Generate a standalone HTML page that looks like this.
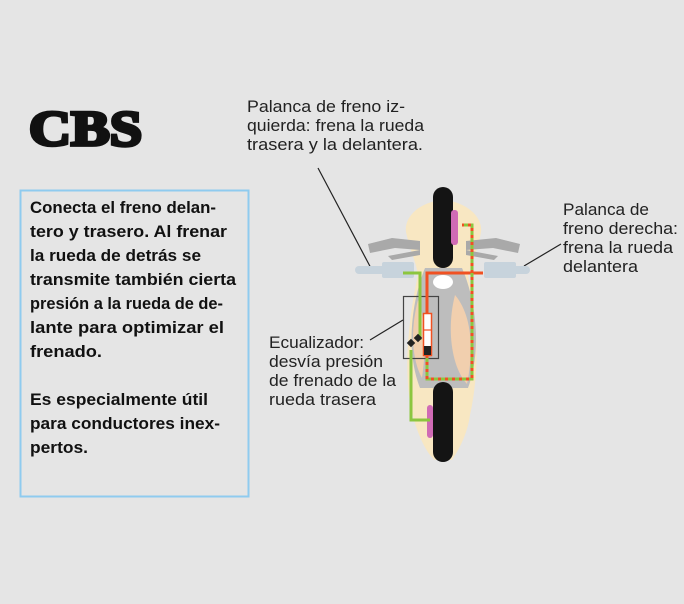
<!DOCTYPE html>
<html><head><meta charset="utf-8"><style>
body{margin:0;background:#e5e5e5;}
svg{display:block;}
</style></head><body>
<svg width="684" height="604" viewBox="0 0 684 604" xmlns="http://www.w3.org/2000/svg">
<rect width="684" height="604" fill="#e5e5e5"/>
<text x="29" y="145" font-family="Liberation Serif" font-weight="bold" font-size="50" textLength="113" lengthAdjust="spacingAndGlyphs" fill="#111" stroke="#111" stroke-width="3.5">CBS</text>
<rect x="20.5" y="190.5" width="228" height="306" fill="none" stroke="#8fcbef" stroke-width="2"/>
<g font-family="Liberation Sans" font-weight="bold" font-size="17" fill="#111">
<text x="30" y="213" textLength="186" lengthAdjust="spacingAndGlyphs">Conecta el freno delan-</text>
<text x="30" y="237" textLength="197" lengthAdjust="spacingAndGlyphs">tero y trasero.  Al frenar</text>
<text x="30" y="261" textLength="171" lengthAdjust="spacingAndGlyphs">la rueda de detrás se</text>
<text x="30" y="285" textLength="206" lengthAdjust="spacingAndGlyphs">transmite también cierta</text>
<text x="30" y="309" textLength="193" lengthAdjust="spacingAndGlyphs">presión a la rueda de de-</text>
<text x="30" y="333" textLength="194" lengthAdjust="spacingAndGlyphs">lante para optimizar el</text>
<text x="30" y="357" textLength="72" lengthAdjust="spacingAndGlyphs">frenado.</text>
<text x="30" y="405" textLength="178" lengthAdjust="spacingAndGlyphs">Es especialmente útil</text>
<text x="30" y="429" textLength="190" lengthAdjust="spacingAndGlyphs">para conductores inex-</text>
<text x="30" y="453" textLength="58" lengthAdjust="spacingAndGlyphs">pertos.</text>
</g>
<g font-family="Liberation Sans" font-size="16.5" fill="#222">
<text x="247" y="112" textLength="158" lengthAdjust="spacingAndGlyphs">Palanca de freno iz-</text>
<text x="247" y="131" textLength="177" lengthAdjust="spacingAndGlyphs">quierda: frena la rueda</text>
<text x="247" y="150" textLength="176" lengthAdjust="spacingAndGlyphs">trasera y  la delantera.</text>
<text x="563" y="215" textLength="86" lengthAdjust="spacingAndGlyphs">Palanca de</text>
<text x="563" y="234" textLength="115" lengthAdjust="spacingAndGlyphs">freno derecha:</text>
<text x="563" y="253" textLength="110" lengthAdjust="spacingAndGlyphs">frena la rueda</text>
<text x="563" y="272" textLength="75" lengthAdjust="spacingAndGlyphs">delantera</text>
<text x="269" y="348" textLength="95" lengthAdjust="spacingAndGlyphs">Ecualizador:</text>
<text x="269" y="367" textLength="114" lengthAdjust="spacingAndGlyphs">desvía presión</text>
<text x="269" y="386" textLength="127" lengthAdjust="spacingAndGlyphs">de frenado de la</text>
<text x="269" y="405" textLength="107" lengthAdjust="spacingAndGlyphs">rueda trasera</text>
</g>
<g stroke="#222" stroke-width="1.2">
<line x1="318" y1="168" x2="373" y2="272"/>
<line x1="561" y1="244" x2="524" y2="266"/>
<line x1="370" y1="340" x2="403" y2="320"/>
</g>
<!-- body -->
<path d="M443 200 C418 202 404 218 406 232 C410 250 416 262 418 275 C408 320 402 380 414 420 C420 440 428 455 435 460 L452 460 C462 445 468 430 470 415 C480 370 478 320 468 275 C472 262 478 250 481 232 C483 218 468 202 443 200Z" fill="#f8e7c2"/>
<path d="M425 268 C412 300 405 350 420 388 L468 388 C482 350 476 300 462 268Z" fill="#bdbdbd"/>
<path d="M455 295 C446 330 452 368 467 384 C474 350 472 315 455 295Z" fill="#f1cfae"/>
<path d="M418 300 C410 330 412 360 422 378 C426 350 426 320 418 300Z" fill="#f1cfae"/>
<ellipse cx="443" cy="282" rx="10" ry="7" fill="#fff"/>
<!-- handlebars -->
<g fill="#a9a9a9">
<path d="M368 244 L392 238 L420 241 L420 250 L395 248 L370 253Z"/>
<path d="M520 244 L496 238 L466 241 L466 250 L493 248 L518 253Z"/>
<path d="M388 256 L420 250 L420 255 L392 260Z"/>
<path d="M498 256 L466 250 L466 255 L494 260Z"/>
</g>
<g fill="#c7d3dc">
<rect x="355" y="266" width="45" height="8" rx="4"/>
<rect x="382" y="262" width="32" height="16" rx="2"/>
<rect x="484" y="262" width="32" height="16" rx="2"/>
<rect x="505" y="266" width="25" height="8" rx="4"/>
</g>
<!-- wheels -->
<rect x="433" y="187" width="20" height="81" rx="10" fill="#141414"/>
<rect x="433" y="382" width="20" height="80" rx="10" fill="#141414"/>
<rect x="451" y="210" width="7" height="35" rx="3" fill="#d06bb5"/>
<rect x="427" y="405" width="6" height="33" rx="3" fill="#d06bb5"/>
<!-- ecualizador box -->
<rect x="403.5" y="296.5" width="35" height="62" fill="none" stroke="#444" stroke-width="1.2"/>
<!-- green -->
<polyline points="403,273 420,273 420,340" fill="none" stroke="#8cc63f" stroke-width="3"/>
<polyline points="411,350 411,420 430,420" fill="none" stroke="#8cc63f" stroke-width="3"/>
<g fill="#222"><rect x="408" y="340" width="6" height="6" transform="rotate(45 411 343)"/><rect x="415" y="335" width="6" height="6" transform="rotate(45 418 338)"/></g>
<!-- red -->
<polyline points="483,273 427,273 427,313" fill="none" stroke="#f05122" stroke-width="3"/>
<polyline points="427,355 427,379 472,379 472,225 462,225" fill="none" stroke="#8cc63f" stroke-width="3"/>
<polyline points="427,355 427,379 472,379 472,225 462,225" fill="none" stroke="#f05122" stroke-width="3" stroke-dasharray="3 4"/>
<rect x="423.5" y="313.5" width="8" height="42" fill="#fff" stroke="#f05122" stroke-width="1.5"/>
<line x1="423" y1="330" x2="432" y2="330" stroke="#f05122" stroke-width="1.2"/>
<rect x="424" y="346" width="7" height="9" fill="#222"/>
</svg>
</body></html>
